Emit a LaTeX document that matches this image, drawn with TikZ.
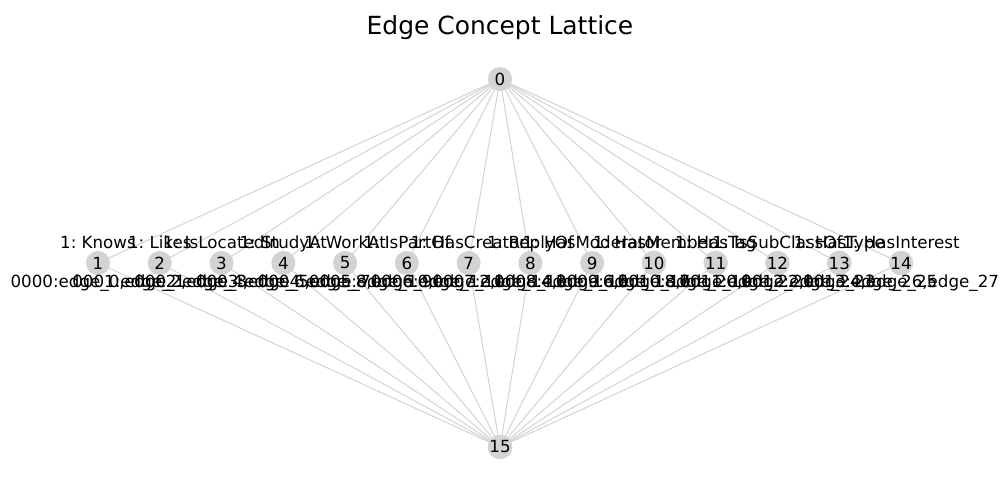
\documentclass[tikz,border=0pt]{standalone}
\usepackage{fontspec}
\setmainfont{DejaVu Sans}
\frenchspacing
\usetikzlibrary{positioning, backgrounds}
\definecolor{latticegray}{HTML}{D3D3D3}

\begin{document}
\begin{tikzpicture}[x=0.02cm, y=0.02cm,
		concept/.style={circle, fill=latticegray, minimum size=13.7pt, inner sep=0pt, font=\fontsize{9.5}{11}\selectfont},
		tag/.style={inner sep=0pt, anchor=base, font=\fontsize{9.5}{11}\selectfont},
		link/.style={draw=latticegray, line width=0.57pt}]
		\useasboundingbox (0, 0) rectangle (1000, 500);
		
		\node[anchor=base, inner sep=0pt, font=\fontsize{14.2}{17}\selectfont] (title) at (500, 465) {Edge Concept Lattice};
		
		\node[concept] (top) at (500, 421) {0};
		\node[concept] (bottom) at (500, 53) {15};
		
		\foreach \i/\rel/\ext in {1/Knows/{0000:edge\_0,edge\_1}, 2/Likes/{0001:edge\_2,edge\_3},
			3/IsLocatedIn/{0002:edge\_4,edge\_5}, 4/StudyAt/{0003:edge\_6,edge\_7},
			5/WorkAt/{0004:edge\_8,edge\_9}, 6/IsPartOf/{0005:edge\_10,edge\_11},
			7/HasCreator/{0006:edge\_12,edge\_13}, 8/ReplyOf/{0007:edge\_14,edge\_15},
			9/HasModerator/{0008:edge\_16,edge\_17}, 10/HasMember/{0009:edge\_18,edge\_19},
			11/HasTag/{0010:edge\_20,edge\_21}, 12/IsSubClassOf/{0011:edge\_22,edge\_23},
			13/HasType/{0012:edge\_24,edge\_25}, 14/HasInterest/{0013:edge\_26,edge\_27}} {
			\node[concept] (c\i) at ({98 + 61.77*(\i - 1)}, 237) {\i};
			\node[tag] (r\i) at ([yshift=8pt] c\i.center) {1: \rel};
			\node[tag] (e\i) at ([yshift=-13.7pt] c\i.center) {\ext};
			\begin{scope}[on background layer]
				\path[link] (top.center) -- (c\i.center) -- (bottom.center);
			\end{scope}
		}
	\end{tikzpicture}
\end{document}
